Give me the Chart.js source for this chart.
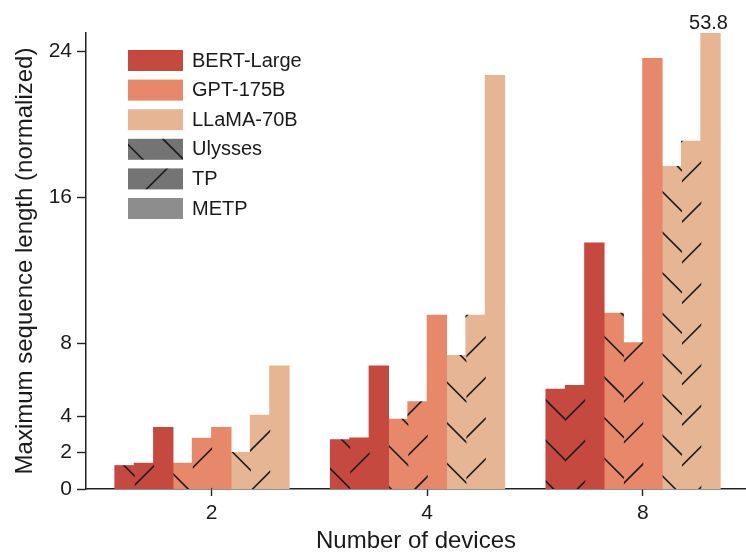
<!DOCTYPE html>
<html>
<head>
<meta charset="utf-8">
<script src="https://cdn.jsdelivr.net/npm/chart.js@4.4.1/dist/chart.umd.min.js"></script>
<style>
html, body { margin: 0; padding: 0; background: #fff; overflow: hidden; }
</style>
</head>
<body>
<canvas id="seqChart" width="746" height="552"></canvas>
<script>
// data
const deviceCounts = ['2', '4', '8'];
const modelNames = ['BERT-Large', 'GPT-175B', 'LLaMA-70B'];
const methodNames = ['Ulysses', 'TP', 'METP'];

const bertUlysses = [1.28, 2.7, 5.47];
const bertTP = [1.41, 2.79, 5.68];
const bertMETP = [3.37, 6.74, 13.48];
const gptUlysses = [1.41, 3.82, 9.63];
const gptTP = [2.78, 4.78, 8.02];
const gptMETP = [3.37, 9.53, 23.6];
const llamaUlysses = [2.0, 7.32, 17.68];
const llamaTP = [4.05, 9.53, 19.07];
const llamaMETP = [6.74, 22.67, 53.8];

const yTicks = [0, 2, 4, 8, 16, 24];
const yMax = 25;

const modelColors = ['#c5493f', '#e8886a', '#e6b694'];
const legendGreyHatch = '#747474';
const legendGreySolid = '#8d8d8d';
const FONT = '"Liberation Sans", Arial, sans-serif';

// hatch tiles, anchored to the canvas origin
const HATCH_PERIOD = 40.6;
function makeHatch(color, dir) {
    const size = 203; // 5 periods, so the tile repeats cleanly
    const c = document.createElement('canvas');
    c.width = size;
    c.height = size;
    const g = c.getContext('2d');
    g.fillStyle = color;
    g.fillRect(0, 0, size, size);
    g.strokeStyle = '#1c1c1c';
    g.lineWidth = 1.6;
    g.beginPath();
    for (let k = -8; k <= 14; k++) {
        if (dir === 'back') {
            const c0 = 16.6 + k * HATCH_PERIOD;
            g.moveTo(-20, -20 + c0);
            g.lineTo(size + 20, size + 20 + c0);
        } else {
            const d0 = 10.8 + k * HATCH_PERIOD;
            g.moveTo(-20, d0 + 20);
            g.lineTo(size + 20, d0 - size - 20);
        }
    }
    g.stroke();
    return g.createPattern(c, 'repeat');
}

document.addEventListener('DOMContentLoaded', function() {
    const ctx = document.getElementById('seqChart');

    const seriesByModel = [
        [bertUlysses, bertTP, bertMETP],
        [gptUlysses, gptTP, gptMETP],
        [llamaUlysses, llamaTP, llamaMETP]
    ];

    const datasets = [];
    seriesByModel.forEach((group, m) => {
        group.forEach((values, k) => {
            let fill = modelColors[m];
            if (k === 0) fill = makeHatch(modelColors[m], 'back');
            if (k === 1) fill = makeHatch(modelColors[m], 'fwd');
            datasets.push({
                label: modelNames[m] + ' ' + methodNames[k],
                data: values.map((v, i) => ({ x: i, y: v })),
                backgroundColor: fill,
                borderWidth: 0,
                inflateAmount: 0.5,
                clip: 0
            });
        });
    });
    // empty slot: the groups in the figure sit half a bar left of the tick
    datasets.push({
        label: '',
        data: deviceCounts.map((d, i) => ({ x: i, y: null })),
        backgroundColor: 'rgba(0,0,0,0)',
        borderWidth: 0
    });

    const legendItems = [
        { text: modelNames[0], fill: modelColors[0] },
        { text: modelNames[1], fill: modelColors[1] },
        { text: modelNames[2], fill: modelColors[2] },
        { text: methodNames[0], fill: makeHatch(legendGreyHatch, 'back') },
        { text: methodNames[1], fill: makeHatch(legendGreyHatch, 'fwd') },
        { text: methodNames[2], fill: legendGreySolid }
    ];

    // legend drawn inside the plot, top-left
    const insideLegend = {
        id: 'insideLegend',
        afterDraw(chart) {
            const c = chart.ctx;
            const area = chart.chartArea;
            const x0 = area.left + 42;
            const y0 = area.top + 17;
            c.save();
            c.font = '20px ' + FONT;
            c.textBaseline = 'middle';
            c.textAlign = 'left';
            legendItems.forEach((item, i) => {
                const y = y0 + i * 29.6;
                c.fillStyle = item.fill;
                c.fillRect(x0, y, 55, 21);
                c.fillStyle = '#1a1a1a';
                c.fillText(item.text, x0 + 64, y + 11);
            });
            c.restore();
        }
    };

    // values past the axis top get printed above the bar
    const overflowLabels = {
        id: 'overflowLabels',
        afterDatasetsDraw(chart) {
            const c = chart.ctx;
            const yScale = chart.scales.y;
            chart.data.datasets.forEach((ds, i) => {
                const meta = chart.getDatasetMeta(i);
                ds.data.forEach((pt, j) => {
                    if (pt.y !== null && pt.y > yScale.max) {
                        const bar = meta.data[j];
                        c.save();
                        c.font = '20px ' + FONT;
                        c.fillStyle = '#1a1a1a';
                        c.textAlign = 'center';
                        c.textBaseline = 'alphabetic';
                        c.fillText(String(pt.y), bar.x - 2, chart.chartArea.top - 4);
                        c.restore();
                    }
                });
            });
        }
    };

    new Chart(ctx, {
        type: 'bar',
        data: { datasets: datasets },
        plugins: [insideLegend, overflowLabels],
        options: {
            responsive: false,
            animation: false,
            devicePixelRatio: 1,
            layout: { padding: { top: 33, left: 0, right: 0, bottom: 0 } },
            datasets: {
                bar: { categoryPercentage: 0.898, barPercentage: 1.0 }
            },
            plugins: {
                legend: { display: false },
                tooltip: { enabled: false }
            },
            scales: {
                x: {
                    type: 'linear',
                    offset: false,
                    min: -0.583,
                    max: 2.479,
                    afterBuildTicks: (scale) => {
                        scale.ticks = deviceCounts.map((d, i) => ({ value: i }));
                    },
                    afterFit: (scale) => { scale.height = 63; },
                    ticks: {
                        callback: (v, i) => deviceCounts[i],
                        color: '#1a1a1a',
                        font: { family: FONT, size: 21 },
                        padding: 5,
                        maxRotation: 0,
                        autoSkip: false
                    },
                    grid: {
                        offset: false,
                        drawOnChartArea: false,
                        drawTicks: true,
                        tickLength: 7,
                        tickColor: '#222',
                        tickWidth: 1.4
                    },
                    border: { display: true, color: '#222', width: 1.5 },
                    title: {
                        display: true,
                        text: 'Number of devices',
                        color: '#1a1a1a',
                        font: { family: FONT, size: 24, lineHeight: 1 },
                        padding: { top: 0, bottom: -1 }
                    }
                },
                y: {
                    min: 0,
                    max: yMax,
                    afterBuildTicks: (scale) => {
                        scale.ticks = yTicks.map(v => ({ value: v }));
                    },
                    afterFit: (scale) => { scale.width = 86; },
                    ticks: {
                        color: '#1a1a1a',
                        font: { family: FONT, size: 21 },
                        padding: 5,
                        autoSkip: false
                    },
                    grid: {
                        drawOnChartArea: false,
                        drawTicks: true,
                        tickLength: 9,
                        tickColor: '#222',
                        tickWidth: 1.4
                    },
                    border: { display: true, color: '#222', width: 1.5 },
                    title: {
                        display: true,
                        text: 'Maximum sequence length (normalized)',
                        color: '#1a1a1a',
                        font: { family: FONT, size: 24, lineHeight: 1 },
                        padding: { top: 13, bottom: 0 }
                    }
                }
            }
        }
    });
});
</script>
</body>
</html>
